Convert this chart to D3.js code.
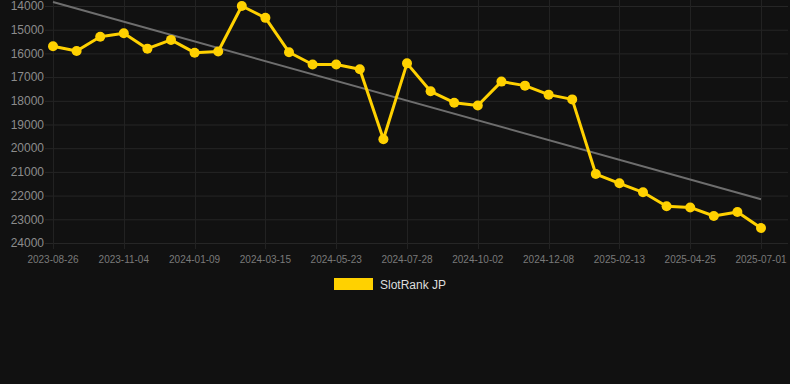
<!DOCTYPE html>
<html>
<head>
<meta charset="utf-8">
<script src="https://cdn.jsdelivr.net/npm/d3@7"></script>
<style>
  body { margin: 0; background: #111111; }
  svg { display: block; font-family: "Liberation Sans", Arial, sans-serif; }
</style>
</head>
<body>
<div id="chart"></div>
<script>
// data
const dates = [
  "2023-08-26", "2023-09-18", "2023-10-11", "2023-11-04", "2023-11-26", "2023-12-18",
  "2024-01-09", "2024-02-01", "2024-02-22", "2024-03-15", "2024-04-07", "2024-04-30",
  "2024-05-23", "2024-06-14", "2024-07-06", "2024-07-28", "2024-08-19", "2024-09-10",
  "2024-10-02", "2024-10-24", "2024-11-16", "2024-12-08", "2024-12-30", "2025-01-21",
  "2025-02-13", "2025-03-09", "2025-04-01", "2025-04-25", "2025-05-17", "2025-06-08",
  "2025-07-01"];
const rank = [
  15700, 15900, 15300, 15150, 15800, 15430,
  15970, 15920, 14000, 14500, 15950, 16470,
  16470, 16670, 19620, 16420, 17600, 18080,
  18200, 17190, 17360, 17740, 17940, 21090,
  21480, 21860, 22450, 22500, 22860, 22690,
  23370];
const yTicks = [14000, 15000, 16000, 17000, 18000, 19000, 20000, 21000, 22000, 23000, 24000];
const seriesName = "SlotRank JP";

let width = 790, height = 384;
let plot = {left: 53, right: 761, top: 6, bottom: 243, gridLeft: 45, gridRight: 788};

let svg = d3.select("#chart")
  .append("svg")
    .attr("width", width)
    .attr("height", height);

let x = d3.scalePoint()
  .domain(dates)
  .range([plot.left, plot.right]);

let y = d3.scaleLinear()
  .domain([14000, 24000])
  .range([plot.top, plot.bottom]);

// horizontal grid + y labels
svg.append("g")
  .selectAll("line")
  .data(yTicks)
  .enter().append("line")
    .attr("x1", plot.gridLeft)
    .attr("x2", plot.gridRight)
    .attr("y1", d => y(d) + 0.5)
    .attr("y2", d => y(d) + 0.5)
    .attr("stroke", "#262626");

svg.append("g")
  .selectAll("text")
  .data(yTicks)
  .enter().append("text")
    .attr("x", 44)
    .attr("y", d => y(d))
    .attr("dy", "0.35em")
    .attr("text-anchor", "end")
    .attr("fill", "#8c8c8c")
    .attr("font-size", 12)
    .text(d => d);

// x axis: every third date labelled
let xTickDates = dates.filter((d, i) => i % 3 === 0);

svg.append("g")
  .selectAll("line")
  .data(xTickDates)
  .enter().append("line")
    .attr("x1", d => Math.round(x(d)) + 0.5)
    .attr("x2", d => Math.round(x(d)) + 0.5)
    .attr("y1", plot.top - 6)
    .attr("y2", plot.bottom + 6)
    .attr("stroke", "#222222");

svg.append("g")
  .selectAll("text")
  .data(xTickDates)
  .enter().append("text")
    .attr("x", d => x(d))
    .attr("y", 263)
    .attr("text-anchor", "middle")
    .attr("fill", "#7a7a7a")
    .attr("font-size", 10)
    .text(d => d);

// trend line (least squares over the points)
let idx = rank.map((d, i) => i);
let mx = d3.mean(idx), my = d3.mean(rank);
let slope = d3.sum(idx, i => (i - mx) * (rank[i] - my)) / d3.sum(idx, i => (i - mx) * (i - mx));
let icpt = my - slope * mx;
let last = dates.length - 1;

svg.append("line")
  .attr("x1", x(dates[0]))
  .attr("y1", y(icpt))
  .attr("x2", x(dates[last]))
  .attr("y2", y(icpt + slope * last))
  .attr("stroke", "#6e6e6e")
  .attr("stroke-width", 2);

// series line
let line = d3.line()
  .x((d, i) => x(dates[i]))
  .y(d => y(d));

svg.append("path")
  .datum(rank)
  .attr("fill", "none")
  .attr("stroke", "#ffd100")
  .attr("stroke-width", 3)
  .attr("stroke-linejoin", "round")
  .attr("d", line);

svg.append("g")
  .selectAll("circle")
  .data(rank)
  .enter().append("circle")
    .attr("cx", (d, i) => x(dates[i]))
    .attr("cy", d => y(d))
    .attr("r", 5)
    .attr("fill", "#ffd100");

// legend
svg.append("rect")
  .attr("x", 334)
  .attr("y", 278)
  .attr("width", 39)
  .attr("height", 12)
  .attr("fill", "#ffd100");

svg.append("text")
  .attr("x", 380)
  .attr("y", 288.5)
  .attr("fill", "#dddddd")
  .attr("font-size", 12)
  .text(seriesName);
</script>
</body>
</html>
